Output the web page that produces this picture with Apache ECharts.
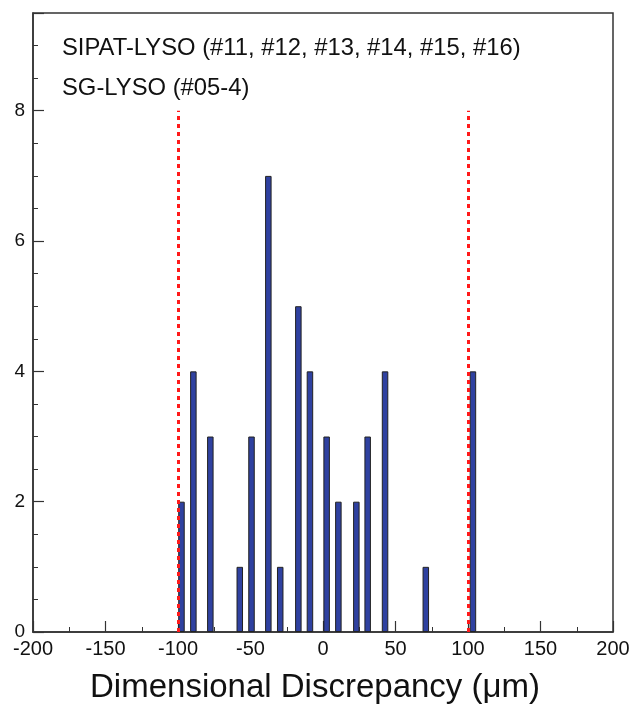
<!DOCTYPE html>
<html><head><meta charset="utf-8">
<script src="https://cdn.jsdelivr.net/npm/echarts@6/dist/echarts.min.js"></script>
<style>html,body{margin:0;padding:0;background:#fff}#c{width:634px;height:706px}</style>
</head><body><div id="c"></div>
<script>
const binCenters = [-97.6, -89.4, -77.7, -57.4, -49.3, -37.7, -29.5, -17, -9, 2.5, 10.6, 23, 30.8, 42.8, 70.9, 103.4];
const counts     = [2, 4, 3, 1, 3, 7, 1, 5, 4, 3, 2, 2, 3, 4, 1, 4];
const limitLines = [-100, 100];
const limitTop = 8;
const legendLines = ['SIPAT-LYSO (#11, #12, #13, #14, #15, #16)', 'SG-LYSO (#05-4)'];
const xTitle = 'Dimensional Discrepancy (\u03bcm)';

const chart = echarts.init(document.getElementById('c'));
const font = 'Liberation Sans, Arial, Helvetica, sans-serif';
chart.setOption({
  animation: false,
  grid: {left: 33, right: 21, top: 13, bottom: 74, show: true, borderColor: '#333', borderWidth: 1.5,
         containLabel: false, outerBoundsMode: 'none'},
  xAxis: {
    type: 'value', min: -200, max: 200, interval: 50,
    axisLine: {onZero: false, lineStyle: {color: '#333', width: 1.5}},
    axisTick: {inside: true, length: 11, lineStyle: {color: '#333', width: 1.2}},
    minorTick: {show: true, splitNumber: 2, length: 5, lineStyle: {color: '#333', width: 1}},
    splitLine: {show: false},
    axisLabel: {color: '#111', fontSize: 20, fontFamily: font, margin: 7},
    name: xTitle, nameLocation: 'middle', nameGap: 39,
    nameTextStyle: {color: '#111', fontSize: 33, fontFamily: font, padding: [0, 16, 0, 0]}
  },
  yAxis: {
    type: 'value', min: 0, max: 9.5, interval: 2,
    axisLine: {onZero: false, lineStyle: {color: '#333', width: 1.5}},
    axisTick: {inside: true, length: 11, lineStyle: {color: '#333', width: 1.2}},
    minorTick: {show: true, splitNumber: 4, length: 5, lineStyle: {color: '#333', width: 1}},
    splitLine: {show: false},
    axisLabel: {color: '#111', fontSize: 19, fontFamily: font, margin: 8, showMaxLabel: false}
  },
  series: [{
    type: 'bar',
    data: binCenters.map((x, i) => [x, counts[i]]),
    barWidth: 6.5,
    itemStyle: {color: '#2f41a0', borderColor: '#222', borderWidth: 1},
    markLine: {
      silent: true, symbol: 'none', label: {show: false},
      lineStyle: {color: '#ff1a1a', type: [4, 4], width: 3, opacity: 1},
      data: limitLines.map(v => [{coord: [v, 0]}, {coord: [v, limitTop]}])
    }
  }],
  graphic: legendLines.map((t, i) => ({
    type: 'text', x: 62, y: 48 + i * 40,
    style: {text: t, fill: '#111', fontSize: 23.8, fontFamily: font, verticalAlign: 'middle'}
  }))
});
</script></body></html>
